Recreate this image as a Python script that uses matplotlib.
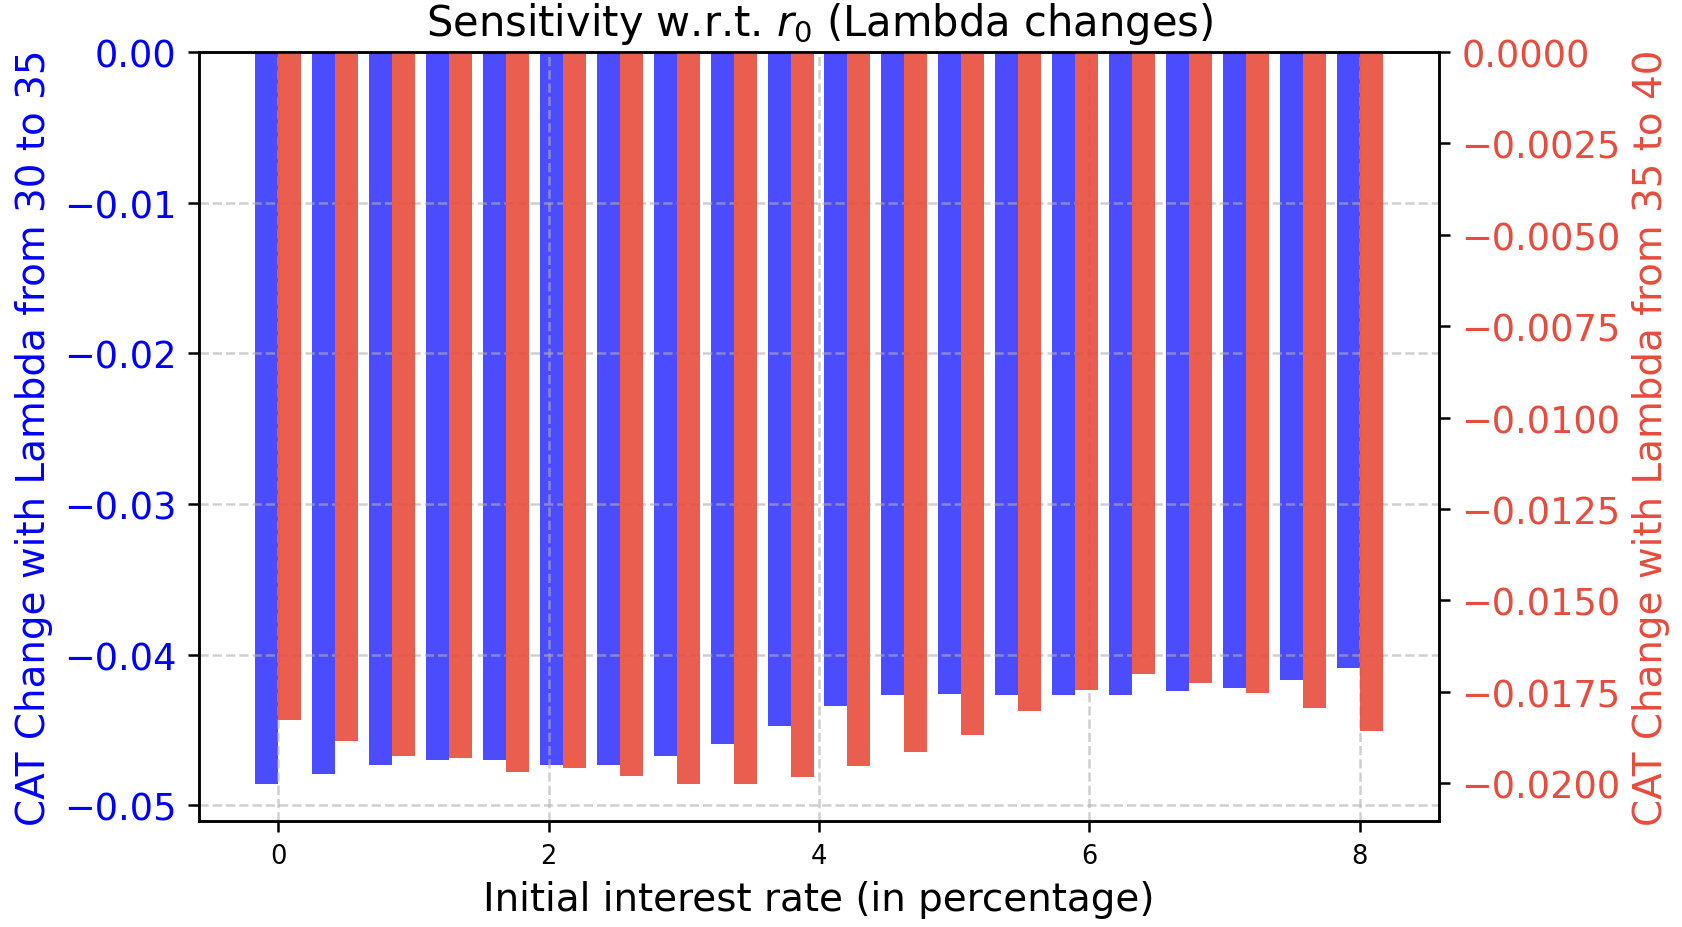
import numpy as np
import matplotlib.pyplot as plt

r0 = np.linspace(0, 8, 20)

cat_30_35 = [-0.0486, -0.0479, -0.0473, -0.0470, -0.0470, -0.0473, -0.0473,
             -0.0467, -0.0459, -0.0447, -0.0434, -0.0427, -0.0426, -0.0427,
             -0.0427, -0.0427, -0.0424, -0.0422, -0.0417, -0.0409]
cat_35_40 = [-0.01826, -0.01885, -0.01926, -0.01932, -0.01968, -0.01959,
             -0.01979, -0.02003, -0.02003, -0.01982, -0.01953, -0.01915,
             -0.01868, -0.01803, -0.01744, -0.01700, -0.01726, -0.01753,
             -0.01794, -0.01856]

width = 0.17

fig = plt.figure(figsize=(16.82, 9.28), dpi=100)
ax1 = fig.add_axes([199/1682, 1 - 822/928, (1439-199)/1682, (822-53)/928])
ax2 = ax1.twinx()

ax1.bar(r0 - width/2, cat_30_35, width, color='blue', alpha=0.7)
ax2.bar(r0 + width/2, cat_35_40, width, color='#e74c3c', alpha=0.9)

ax1.set_xlabel('Initial interest rate (in percentage)', fontsize=28, labelpad=8)
ax1.set_ylabel('CAT Change with Lambda from 30 to 35', color='blue', fontsize=28, labelpad=8)
ax2.set_ylabel('CAT Change with Lambda from 35 to 40', color='#e74c3c', fontsize=28, labelpad=8)
ax1.tick_params(axis='y', labelcolor='blue', labelsize=26.5, length=8, width=1.8, pad=8)
ax2.tick_params(axis='y', labelcolor='#e74c3c', labelsize=26.5, length=8, width=1.8, pad=8)
ax1.tick_params(axis='x', labelsize=18.5, length=8, width=1.8, pad=8)
for ax in (ax1, ax2):
    for s in ax.spines.values():
        s.set_linewidth(1.8)
ax1.grid(True, linestyle='--', linewidth=1.8, alpha=0.6)
ax1.set_title('Sensitivity w.r.t. $r_0$ (Lambda changes)', fontsize=30, pad=12)

fig.savefig('out.png', dpi=100)
